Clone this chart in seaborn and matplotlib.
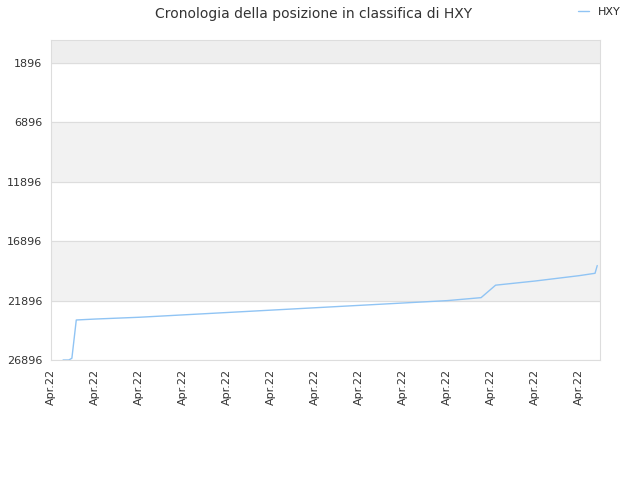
import matplotlib
matplotlib.use('Agg')
import matplotlib.pyplot as plt
import seaborn as sns
import pandas as pd

# days since first tick (one tick per day, all labelled "Apr.22")
days = [0.27, 0.4, 0.47, 0.57, 1.0, 2.0, 3.0, 4.0, 5.0, 6.0, 7.0, 8.0, 9.0, 9.77,
        10.1, 11.0, 12.0, 12.36, 12.41]
ranks = [26896, 26896, 26750, 23530, 23450, 23300, 23100, 22900, 22700, 22500, 22300,
         22100, 21900, 21650, 20600, 20250, 19800, 19600, 18950]
tick_pos = list(range(13))
tick_labels = ['Apr.22'] * 13
y_ticks = [1896, 6896, 11896, 16896, 21896, 26896]

df = pd.DataFrame({'day': days, 'rank': ranks})

sns.set_style('white')
fig, ax = plt.subplots(figsize=(6.4, 4.8), dpi=100)
fig.subplots_adjust(left=0.08, right=0.938, top=0.917, bottom=0.25)

# alternating background bands
bands = [(-40, 1896, '#eeeeee'), (6896, 11896, '#f2f2f2'), (16896, 21896, '#f2f2f2')]
for lo, hi, c in bands:
    ax.axhspan(lo, hi, color=c, zorder=0)
for y in y_ticks:
    ax.axhline(y, color='#dddddd', lw=0.8, zorder=0)

sns.lineplot(data=df, x='day', y='rank', ax=ax, color='#90c4f4', lw=1.0, label='HXY')

ax.set_xlim(0, 12.48)
ax.set_ylim(26896, -40)
ax.set_yticks(y_ticks)
ax.set_yticklabels([str(v) for v in y_ticks], fontsize=8, color='#333333')
ax.set_xticks(tick_pos)
ax.set_xticklabels(tick_labels, rotation=90, fontsize=8, color='#333333')
ax.tick_params(axis='both', length=3, color='#999999')
ax.set_xlabel('')
ax.set_ylabel('')
for s in ax.spines.values():
    s.set_color('#dddddd')

fig.suptitle('Cronologia della posizione in classifica di HXY', fontsize=10, color='#333333', x=0.49, y=0.985)
ax.legend(loc='upper right', bbox_to_anchor=(1.055, 1.135), frameon=False, fontsize=8, handlelength=1.0)

fig.savefig('out.png', dpi=100)
